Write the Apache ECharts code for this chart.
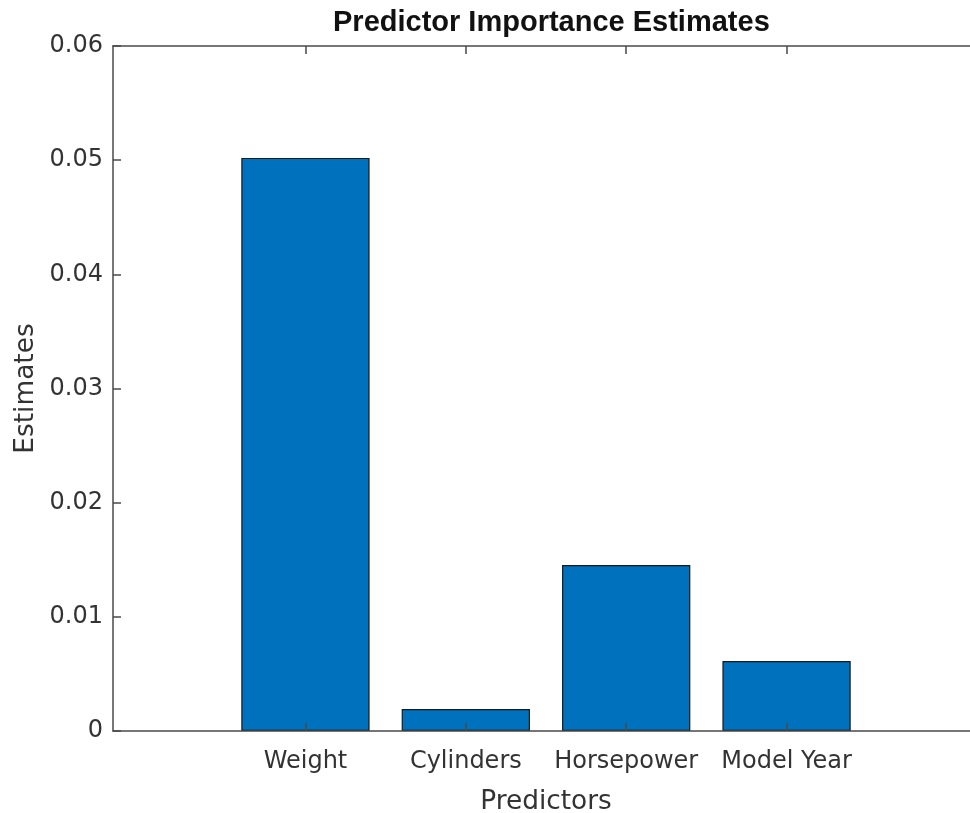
<!DOCTYPE html>
<html>
<head>
<meta charset="utf-8">
<script src="https://cdn.jsdelivr.net/npm/echarts@6/dist/echarts.min.js"></script>
<style>
html,body{margin:0;padding:0;background:#fff;}
#chart{width:970px;height:813px;}
</style>
</head>
<body>
<div id="chart"></div>
<script>
const categories = ['Weight', 'Cylinders', 'Horsepower', 'Model Year'];
const categoryPositions = [1, 2, 3, 4];
const estimates = [0.0502, 0.00193, 0.01454, 0.00613];
const yTicks = [0, 0.01, 0.02, 0.03, 0.04, 0.05, 0.06];

const barData = categoryPositions.map((p, i) => [p, estimates[i]]);

const axisColor = '#4a4a4a';
const textColor = '#333333';
const tickFont = 'DejaVu Sans';

const chart = echarts.init(document.getElementById('chart'), null, {renderer: 'canvas'});

const xCommon = {
  type: 'value',
  min: -0.2,
  max: 5.2,
  z: 5,
  splitLine: {show: false},
  axisLine: {show: true, onZero: false, lineStyle: {color: axisColor, width: 1.5}},
  axisTick: {show: true, inside: true, length: 8, customValues: categoryPositions, lineStyle: {color: axisColor, width: 1.5}}
};
const yCommon = {
  type: 'value',
  min: 0,
  max: 0.06,
  interval: 0.01,
  z: 5,
  splitLine: {show: false},
  axisLine: {show: true, onZero: false, lineStyle: {color: axisColor, width: 1.5}},
  axisTick: {show: true, inside: true, length: 8, customValues: yTicks, lineStyle: {color: axisColor, width: 1.5}}
};

chart.setOption({
  animation: false,
  backgroundColor: '#ffffff',
  title: {
    text: 'Predictor Importance Estimates',
    left: 328,
    top: 3,
    textStyle: {fontFamily: 'Liberation Sans', fontWeight: 'bold', fontSize: 29, color: '#111111'}
  },
  grid: {left: 113, top: 46, width: 866, height: 685, containLabel: false, outerBoundsMode: 'none'},
  xAxis: [
    Object.assign({}, xCommon, {
      position: 'bottom',
      name: 'Predictors',
      nameLocation: 'middle',
      nameGap: 58,
      nameTextStyle: {fontFamily: tickFont, fontSize: 26.4, color: textColor},
      axisLabel: {
        show: true,
        customValues: categoryPositions,
        margin: 19,
        fontFamily: tickFont,
        fontSize: 24,
        color: textColor,
        formatter: function (v) { return categories[Math.round(v) - 1] || ''; }
      }
    }),
    Object.assign({}, xCommon, {position: 'top', axisLabel: {show: false}})
  ],
  yAxis: [
    Object.assign({}, yCommon, {
      position: 'left',
      name: 'Estimates',
      nameLocation: 'middle',
      nameGap: 72,
      nameTextStyle: {fontFamily: tickFont, fontSize: 26.4, color: textColor},
      axisLabel: {
        show: true,
        margin: 10,
        fontFamily: tickFont,
        fontSize: 24,
        color: textColor,
        customValues: yTicks,
        formatter: function (v) { return v === 0 ? '0' : String(+v.toFixed(2)); }
      }
    }),
    Object.assign({}, yCommon, {position: 'right', axisLabel: {show: false}})
  ],
  series: [{
    type: 'bar',
    xAxisIndex: 0,
    yAxisIndex: 0,
    z: 2,
    data: barData,
    barWidth: '80%',
    itemStyle: {color: '#0072BD', borderColor: '#1a1a1a', borderWidth: 1.2}
  }]
});
</script>
</body>
</html>
